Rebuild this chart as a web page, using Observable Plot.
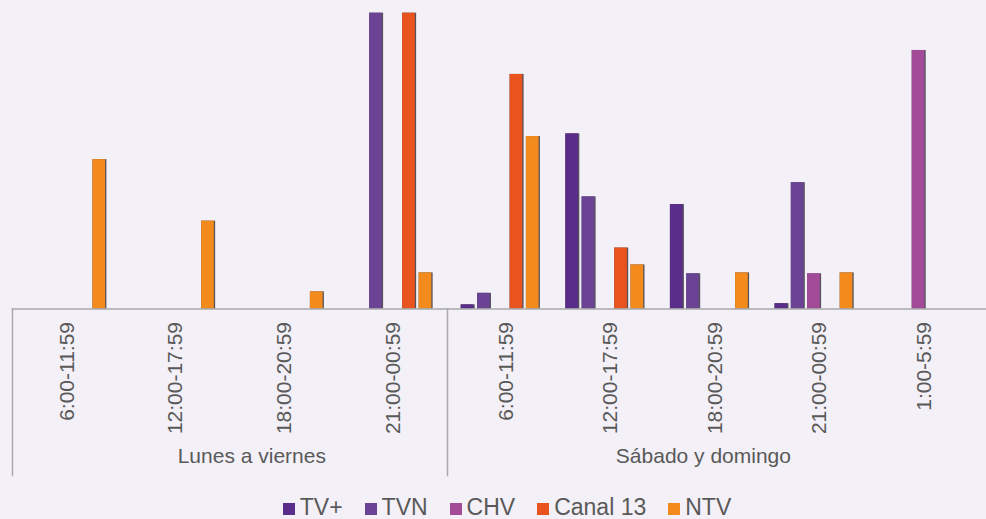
<!DOCTYPE html>
<html>
<head>
<meta charset="utf-8">
<script src="https://cdn.jsdelivr.net/npm/d3@7"></script>
<script src="https://cdn.jsdelivr.net/npm/@observablehq/plot@0.6"></script>
<style>
html, body { margin: 0; padding: 0; background: #f4f0f7; }
#wrap { width: 986px; height: 519px; overflow: hidden; font-family: "Liberation Sans", Arial, sans-serif; }
#charts { display: flex; width: 986px; height: 484px; }
#charts svg { flex: none; max-width: none !important; display: block; }
#legend { height: 35px; box-sizing: border-box; padding-top: 12px; padding-left: 28px; display: flex; justify-content: center; gap: 22px; font-size: 23px; line-height: 23px; color: #595959; }
#legend .sw { display: inline-block; width: 12px; height: 12px; margin-right: 5px; vertical-align: baseline; }
</style>
</head>
<body>
<div id="wrap">
  <div id="charts"></div>
  <div id="legend"></div>
</div>
<script>
// ---- data ----
const series = ["TV+", "TVN", "CHV", "Canal 13", "NTV"];
const colors = ["#5b2d8a", "#6b4395", "#a34a98", "#e9531e", "#f28b1b"];
const periods = ["Lunes a viernes", "Sábado y domingo"];
const weekdaySlots = ["6:00-11:59", "12:00-17:59", "18:00-20:59", "21:00-00:59"];
const weekendSlots = ["6:00-11:59", "12:00-17:59", "18:00-20:59", "21:00-00:59", "1:00-5:59"];
// values per series (order of `series`), per slot
const weekdayValues = [
  [0, 0, 0, 0],           // TV+
  [0, 0, 0, 100],         // TVN
  [0, 0, 0, 0],           // CHV
  [0, 0, 0, 100],         // Canal 13
  [50.5, 29.7, 5.8, 12.2] // NTV
];
const weekendValues = [
  [1.4, 59.2, 35.3, 1.8, 0],   // TV+
  [5.3, 37.9, 11.9, 42.7, 0],  // TVN
  [0, 0, 0, 11.9, 87.4],       // CHV
  [79.3, 20.6, 0, 0, 0],       // Canal 13
  [58.3, 14.9, 12.2, 12.2, 0]  // NTV
];

const H = 484, BASE = 308.5, TOP = 12.7;
const lineColor = "#a9a9a9", textColor = "#595959";

function makePlot(period, slots, vals, o) {
  const data = [];
  slots.forEach((slot, i) => series.forEach((s, j) => {
    const v = vals[j][i];
    if (v > 0) data.push({slot, series: s, value: v});
  }));
  const marks = [
    Plot.barY(data, {fx: "slot", x: "series", y: "value", fill: "#2e2a33", fillOpacity: 0.8}),
    Plot.barY(data, {fx: "slot", x: "series", y: "value", fill: "series", insetRight: 1.3}),
    Plot.frame({facet: "super", anchor: "bottom", stroke: lineColor, strokeWidth: 1.5, insetRight: o.baseInsetRight}),
    Plot.axisFx({anchor: "bottom", tickRotate: -90, tickSize: 0, tickPadding: 13, label: null,
                 fontSize: 21, fill: textColor, dx: o.tickDx}),
    Plot.text([period], {facet: "super", text: d => d, frameAnchor: "bottom", dy: 154, dx: o.labelDx,
                 fontSize: 21, fill: textColor})
  ];
  for (const a of o.frames) {
    marks.push(Plot.frame({facet: "super", anchor: a, stroke: lineColor, strokeWidth: 1.5,
                           insetTop: BASE - TOP, insetBottom: -(475 - BASE)}));
  }
  return Plot.plot({
    width: o.width, height: H,
    marginLeft: o.ml, marginRight: o.mr, marginTop: TOP, marginBottom: H - BASE,
    style: {background: "transparent", fontFamily: "Liberation Sans, Arial, sans-serif", overflow: "visible"},
    fx: {domain: slots, paddingInner: 0, paddingOuter: o.fxPo, align: 0, round: false, label: null},
    x: {domain: series, paddingInner: o.xPi, paddingOuter: o.xPo, round: false, axis: null},
    y: {domain: [0, 100], axis: null},
    color: {domain: series, range: colors},
    marks
  });
}

const charts = document.getElementById("charts");
charts.append(makePlot(periods[0], weekdaySlots, weekdayValues,
  {width: 448, ml: 12, mr: 1, fxPo: 0, xPi: 0.152, xPo: 0.87, tickDx: 0, labelDx: 21.8,
   baseInsetRight: 0, frames: ["left", "right"]}));
charts.append(makePlot(periods[1], weekendSlots, weekendValues,
  {width: 538, ml: 0, mr: 0, fxPo: 0.0717, xPi: 0.141, xPo: 0.78, tickDx: 5, labelDx: -6.6,
   baseInsetRight: -16, frames: []}));

// legend
const legend = document.getElementById("legend");
series.forEach((s, i) => {
  const item = document.createElement("span");
  const sw = document.createElement("span");
  sw.className = "sw";
  sw.style.background = colors[i];
  item.append(sw, document.createTextNode(s));
  legend.append(item);
});
</script>
</body>
</html>
